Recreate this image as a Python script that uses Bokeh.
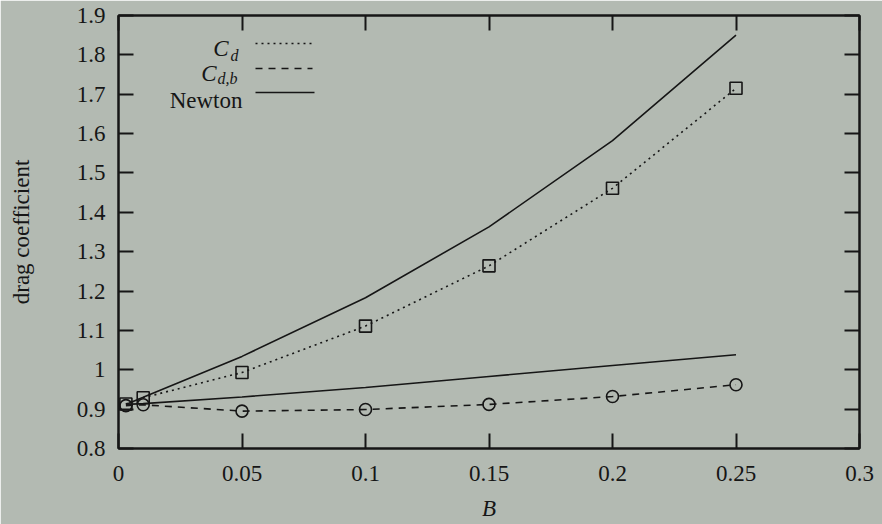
from bokeh.plotting import figure
from bokeh.models import Range1d, LinearAxis, FixedTicker, ColumnDataSource
from bokeh.core.properties import value
from bokeh.embed import file_html
from bokeh.resources import INLINE

# --- data -------------------------------------------------------------
B = [0.003, 0.01, 0.05, 0.1, 0.15, 0.2, 0.25]
cd = [0.913, 0.929, 0.993, 1.111, 1.264, 1.461, 1.715]
cd_b = [0.909, 0.911, 0.895, 0.899, 0.912, 0.932, 0.962]
newton_cd = [0.912, 0.930, 1.034, 1.183, 1.363, 1.582, 1.850]
newton_cd_b = [0.912, 0.914, 0.931, 0.955, 0.983, 1.011, 1.038]

x_ticks = [0, 0.05, 0.1, 0.15, 0.2, 0.25, 0.3]
x_tick_labels = ["0", "0.05", "0.1", "0.15", "0.2", "0.25", "0.3"]
y_ticks = [0.8, 0.9, 1.0, 1.1, 1.2, 1.3, 1.4, 1.5, 1.6, 1.7, 1.8, 1.9]
y_tick_labels = ["0.8", "0.9", "1", "1.1", "1.2", "1.3", "1.4", "1.5",
                 "1.6", "1.7", "1.8", "1.9"]

# --- styling ------------------------------------------------------------
BG = "#b3bab2"
INK = "#161616"
FONT = "Liberation Serif"
FS = "23px"

W, H = 882, 524
LEFT, RIGHT, TOP, BOTTOM = 118, 23, 15, 76
X0, X1 = x_ticks[0], x_ticks[-1]
Y0, Y1 = y_ticks[0], y_ticks[-1]
FW, FH = W - LEFT - RIGHT, H - TOP - BOTTOM


def fx(px):
    """canvas pixel column -> data x"""
    return X0 + (px - LEFT) / FW * (X1 - X0)


def fy(py):
    """canvas pixel row -> data y"""
    return Y1 - (py - TOP) / FH * (Y1 - Y0)


p = figure(width=W, height=H, x_range=Range1d(X0, X1), y_range=Range1d(Y0, Y1),
           output_backend="svg", toolbar_location=None,
           min_border_left=LEFT, min_border_right=RIGHT,
           min_border_top=TOP, min_border_bottom=BOTTOM)
p.background_fill_color = BG
p.border_fill_color = BG
p.outline_line_color = INK
p.outline_line_width = 2
p.grid.visible = False

p.add_layout(LinearAxis(), "right")
p.add_layout(LinearAxis(), "above")

for ax in p.axis:
    ax.major_tick_in = 15
    ax.major_tick_out = 0
    ax.minor_tick_in = 0
    ax.minor_tick_out = 0
    ax.axis_line_width = 2
    ax.axis_line_color = INK
    ax.major_tick_line_width = 2
    ax.major_tick_line_color = INK
    ax.major_label_text_font = FONT
    ax.major_label_text_font_size = FS
    ax.major_label_text_color = INK

for ax in p.xaxis:
    ax.ticker = FixedTicker(ticks=x_ticks)
    ax.major_label_overrides = dict(zip(x_ticks, x_tick_labels))
for ax in p.yaxis:
    ax.ticker = FixedTicker(ticks=y_ticks)
    ax.major_label_overrides = dict(zip(y_ticks, y_tick_labels))

# mirrored tick marks only on the top and right edges
p.above[0].major_label_overrides = {t: "" for t in x_ticks}
p.right[0].major_label_overrides = {t: "" for t in y_ticks}
for ax in (p.right[0], p.above[0]):
    ax.major_label_standoff = 0

bottom = p.below[0]
bottom.major_label_standoff = 17
bottom.axis_label = "B"
bottom.axis_label_text_font = FONT
bottom.axis_label_text_font_size = FS
bottom.axis_label_text_font_style = "italic"
bottom.axis_label_text_color = INK
bottom.axis_label_standoff = 12

left = p.left[0]
left.major_label_standoff = 13
left.axis_label = "drag coefficient"
left.axis_label_text_font = FONT
left.axis_label_text_font_size = FS
left.axis_label_text_font_style = "normal"
left.axis_label_text_color = INK
left.axis_label_standoff = 40

# --- curves -------------------------------------------------------------
src = ColumnDataSource(dict(B=B, cd=cd, cd_b=cd_b, n1=newton_cd, n2=newton_cd_b))

p.line("B", "n1", source=src, line_color=INK, line_width=1.6)
p.line("B", "n2", source=src, line_color=INK, line_width=1.6)
p.line("B", "cd", source=src, line_color=INK, line_width=1.6, line_dash="2 4")
p.line("B", "cd_b", source=src, line_color=INK, line_width=1.6, line_dash="7 6")
p.scatter("B", "cd", source=src, marker="square", size=12, fill_color=None,
          line_color=INK, line_width=1.6)
p.scatter("B", "cd_b", source=src, marker="circle", size=12, fill_color=None,
          line_color=INK, line_width=1.6)

# --- key (label to the left of each line sample) ------------------------
key_x0, key_x1 = fx(255), fx(314)
p.segment(x0=[key_x0], y0=[fy(43)], x1=[key_x1], y1=[fy(43)],
          line_color=INK, line_width=1.6, line_dash="2 4")
p.segment(x0=[key_x0], y0=[fy(68)], x1=[fx(312)], y1=[fy(68)],
          line_color=INK, line_width=1.6, line_dash="7 6")
p.segment(x0=[key_x0], y0=[fy(92)], x1=[key_x1], y1=[fy(92)],
          line_color=INK, line_width=1.6)

p.text(x=[fx(228)], y=[fy(48)], text=["C"], text_font=value(FONT),
       text_font_size=FS, text_font_style="italic", text_align="right",
       text_baseline="alphabetic", text_color=INK)
p.text(x=[fx(230)], y=[fy(55)], text=["d"], text_font=value(FONT),
       text_font_size="16px", text_font_style="italic", text_align="left",
       text_baseline="alphabetic", text_color=INK)
p.text(x=[fx(216)], y=[fy(73)], text=["C"], text_font=value(FONT),
       text_font_size=FS, text_font_style="italic", text_align="right",
       text_baseline="alphabetic", text_color=INK)
p.text(x=[fx(217)], y=[fy(78)], text=["d,b"], text_font=value(FONT),
       text_font_size="16px", text_font_style="italic", text_align="left",
       text_baseline="alphabetic", text_color=INK)
p.text(x=[fx(242)], y=[fy(100)], text=["Newton"], text_font=value(FONT),
       text_font_size=FS, text_align="right", text_baseline="alphabetic",
       text_color=INK)

open("out.html", "w").write(file_html(p, INLINE))
